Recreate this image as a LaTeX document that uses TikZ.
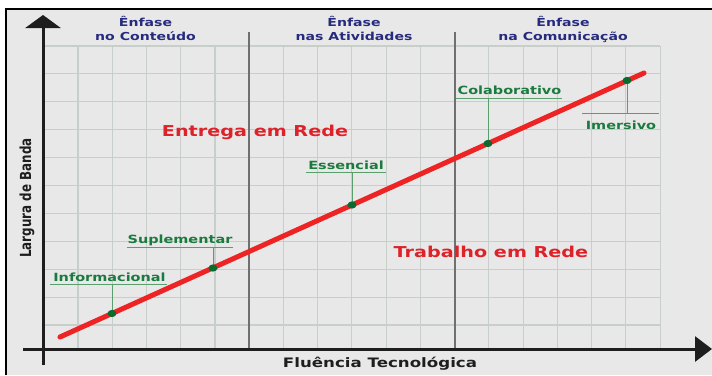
\documentclass[tikz,border=0pt]{standalone}
\usepackage{fontspec}
\usetikzlibrary{arrows.meta}
\newfontfamily\wf[FakeStretch=1.28]{DejaVu Sans}
\newfontfamily\nf{DejaVu Sans}
\definecolor{bgc}{HTML}{E8E8E8}
\definecolor{gridc}{HTML}{C8CFCB}
\definecolor{divc}{HTML}{707070}
\definecolor{axc}{HTML}{1E1E1E}
\definecolor{redc}{HTML}{EE2424}
\definecolor{redt}{HTML}{DD2229}
\definecolor{bluet}{HTML}{262B7E}
\definecolor{greent}{HTML}{1B7A3E}
\definecolor{greenl}{HTML}{5A9E6E}
\definecolor{dotc}{HTML}{0B6A2E}
\tikzset{
  gridline/.style={draw=gridc, line width=1.1pt},
  divider/.style={draw=divc, line width=2pt},
  axis/.style={draw=axc, fill=axc, line width=3pt},
  head/.style={text=bluet, font=\wf\bfseries\fontsize{11}{13}\selectfont, anchor=base, inner sep=0pt},
  zone/.style={text=redt, font=\wf\bfseries\fontsize{15}{17}\selectfont, anchor=base, inner sep=0pt},
  lab/.style={text=greent, font=\wf\bfseries\fontsize{11.3}{13}\selectfont, anchor=base, inner sep=0pt},
  leader/.style={draw=greenl, line width=1pt},
  dotmark/.style={fill=dotc},
  axlab/.style={text=axc, font=\wf\bfseries\fontsize{13}{15}\selectfont, anchor=base, inner sep=0pt}
}
\begin{document}
\begin{tikzpicture}[x=1pt,y=-1pt]
\useasboundingbox (0,0) rectangle (712,375);
\fill[white] (0,0) rectangle (712,375);
\fill[bgc] (6,9) rectangle (712,375);
\draw[black, line width=1.2pt] (6,375) -- (6,9) -- (712,9);
% grid
\foreach \k in {0,...,10} { \draw[gridline] (43,46+27.9*\k) -- (660,46+27.9*\k); }
\foreach \k in {0,...,17} { \draw[gridline] (78+34.24*\k,46) -- (78+34.24*\k,349); }
% dividers
\draw[divider] (249,32) -- (249,349);
\draw[divider] (455,32) -- (455,349);
% axes
\coordinate (ybot) at (43,365);
\coordinate (ytop) at (43,15);
\coordinate (xleft) at (23,349);
\coordinate (xright) at (712,349);
\draw[axis, -{Triangle[length=13pt,width=35pt]}] (ybot) -- (ytop);
\draw[axis, -{Triangle[length=17pt,width=25pt]}] (xleft) -- (xright);
% red line
\coordinate (rs) at (60,337);
\coordinate (re) at (644,73);
\draw[redc, line width=5pt, line cap=round] (rs) -- (re);
% points
\coordinate (pI) at (112,313.5);
\coordinate (pS) at (213,268);
\coordinate (pE) at (352,205);
\coordinate (pC) at (488,143.5);
\coordinate (pM) at (627,80.5);
% underlines
\coordinate (uI1) at (50,284); \coordinate (uI2) at (167,284);
\coordinate (uS1) at (127,247); \coordinate (uS2) at (233,247);
\coordinate (uE1) at (306,172); \coordinate (uE2) at (386,172);
\coordinate (uC1) at (456,98); \coordinate (uC2) at (562,98);
\coordinate (uM1) at (582,113); \coordinate (uM2) at (659,113);
\draw[leader] (uI1) -- (uI2); \draw[leader] (pI) -- (pI |- uI1);
\draw[leader] (uS1) -- (uS2); \draw[leader] (pS) -- (pS |- uS1);
\draw[leader] (uE1) -- (uE2); \draw[leader] (pE) -- (pE |- uE1);
\draw[leader] (uC1) -- (uC2); \draw[leader] (pC) -- (pC |- uC1);
\draw[leader] (uM1) -- (uM2); \draw[leader] (pM) -- (pM |- uM1);
\foreach \p in {pI,pS,pE,pC,pM} { \fill[dotmark] (\p) ellipse [x radius=4.5pt, y radius=3.6pt]; }
% labels
\node[lab] (lI) at (109.5,281) {Informacional};
\node[lab] (lS) at (180,243) {Suplementar};
\node[lab] (lE) at (346,169) {Essencial};
\node[lab] (lC) at (509.5,94) {Colaborativo};
\node[lab] (lM) at (621,129) {Imersivo};
% headings
\node[head] (h1a) at (145.5,26) {Ênfase};
\node[head] (h1b) at (145.5,40) {no Conteúdo};
\node[head] (h2a) at (354,26) {Ênfase};
\node[head] (h2b) at (354,40) {nas Atividades};
\node[head] (h3a) at (563,26) {Ênfase};
\node[head] (h3b) at (563,40) {na Comunicação};
% zones
\node[zone] (z1) at (255,136) {Entrega em Rede};
\node[zone] (z2) at (491,257) {Trabalho em Rede};
% axis labels
\node[axlab] (xl) at (380,367) {Fluência Tecnológica};
\node[text=axc, rotate=90, inner sep=0pt] (yl) at (27,198) {\scalebox{1}[1.28]{\nf\bfseries\fontsize{11.9}{13}\selectfont Largura de Banda}};
\end{tikzpicture}
\end{document}
